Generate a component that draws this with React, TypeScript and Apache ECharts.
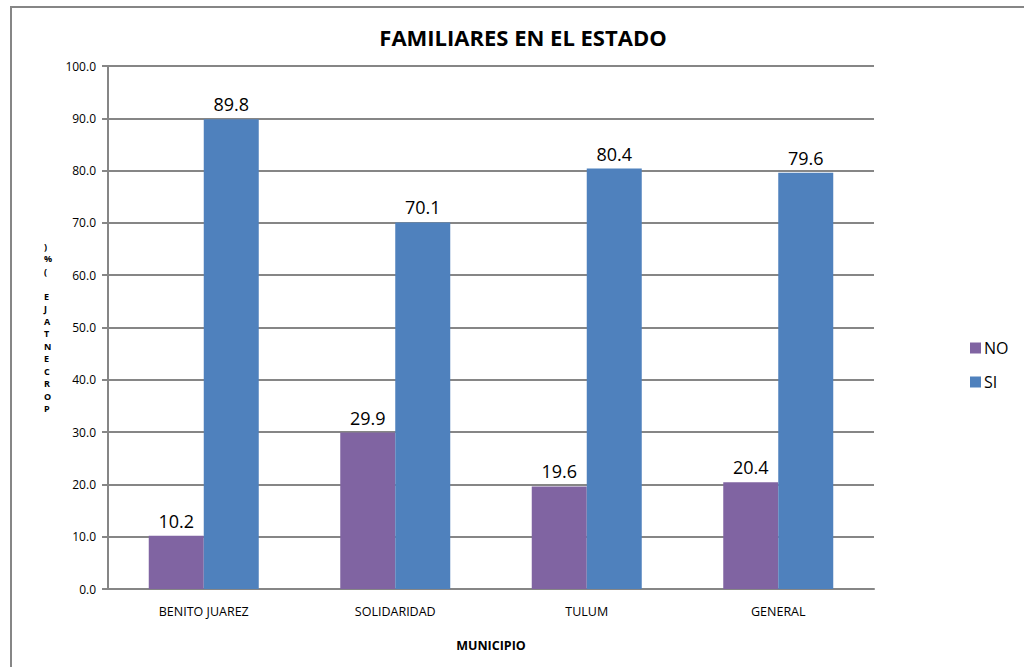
import React, { useEffect, useRef } from "react";
import * as echarts from "echarts";

const categories = ["BENITO JUAREZ", "SOLIDARIDAD", "TULUM", "GENERAL"];
const noValues = [10.2, 29.9, 19.6, 20.4];
const siValues = [89.8, 70.1, 80.4, 79.6];
const seriesNames = ["NO", "SI"];
const yAxisTitle = "PORCENTAJE (%)";

const FONT = "'Open Sans', 'Liberation Sans', sans-serif";

export default function App() {
  const ref = useRef<HTMLDivElement>(null);
  useEffect(() => {
    if (!ref.current) return;
    const chart = echarts.init(ref.current, undefined, { renderer: "svg" });
    const stacked = yAxisTitle.split("").reverse().join("\n");
    const labelCommon = {
      show: true,
      position: "top" as const,
      color: "#000",
      fontSize: 18,
      fontFamily: FONT,
      formatter: (p: any) => Number(p.value).toFixed(1),
      distance: 6,
    };
    chart.setOption({
      animation: false,
      backgroundColor: "#fff",
      title: {
        text: "FAMILIARES EN EL ESTADO",
        left: 518,
        top: 21,
        textAlign: "center",
        textStyle: { fontSize: 22, fontWeight: "bold", color: "#000", fontFamily: FONT },
      },
      grid: { left: 108, top: 66, width: 766, height: 523, containLabel: false },
      legend: {
        orient: "vertical",
        left: 965,
        top: 335,
        itemWidth: 11,
        itemHeight: 11,
        itemGap: 18,
        icon: "rect",
        textStyle: { fontSize: 16, color: "#000", fontFamily: FONT, padding: [0, 0, 0, -2] },
        data: seriesNames,
      },
      xAxis: {
        type: "category",
        data: categories,
        name: "MUNICIPIO",
        nameLocation: "middle",
        nameGap: 50,
        nameTextStyle: { fontSize: 12.5, fontWeight: "bold", color: "#000", fontFamily: FONT },
        axisLine: { lineStyle: { color: "#868686", width: 2 } },
        axisTick: { show: false },
        axisLabel: { fontSize: 12.5, color: "#000", fontFamily: FONT, margin: 16 },
      },
      yAxis: {
        type: "value",
        min: 0,
        max: 100,
        interval: 10,
        axisLine: { show: true, lineStyle: { color: "#868686", width: 2 } },
        axisTick: { show: true, length: 6, lineStyle: { color: "#868686", width: 2 } },
        splitLine: { lineStyle: { color: "#868686", width: 2 } },
        axisLabel: {
          fontSize: 12,
          color: "#000",
          fontFamily: FONT,
          margin: 12,
          formatter: (v: number) => v.toFixed(1),
        },
      },
      series: [
        {
          name: seriesNames[0],
          type: "bar",
          data: noValues,
          itemStyle: { color: "#8064A2" },
          barWidth: 55,
          barGap: "0%",
          label: labelCommon,
        },
        {
          name: seriesNames[1],
          type: "bar",
          data: siValues,
          itemStyle: { color: "#4F81BD" },
          barWidth: 55,
          barGap: "0%",
          label: labelCommon,
        },
      ],
      graphic: [
        {
          type: "rect",
          shape: { x: 11, y: 7, width: 1100, height: 1000 },
          style: { fill: "none", stroke: "#868686", lineWidth: 2 },
          silent: true,
        },
        {
          type: "text",
          left: 44,
          top: 240,
          style: {
            text: stacked,
            fontSize: 9,
            fontWeight: "bold",
            fontFamily: FONT,
            lineHeight: 12.5,
            fill: "#000",
            align: "center",
          },
        },
      ],
    });
    return () => chart.dispose();
  }, []);
  return (
    <div
      ref={ref}
      style={{ position: "absolute", left: 0, top: 0, width: 1024, height: 667 }}
    />
  );
}
